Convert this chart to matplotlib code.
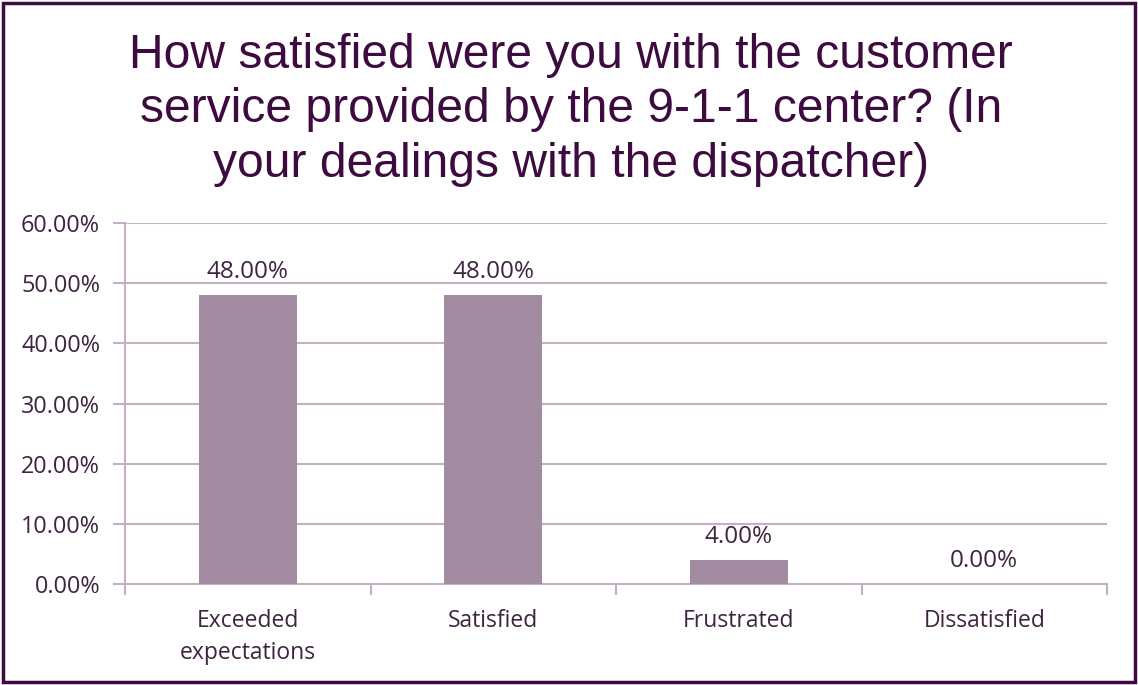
import matplotlib.pyplot as plt
from matplotlib.patches import Rectangle
from matplotlib.ticker import PercentFormatter

categories = ["Exceeded\nexpectations", "Satisfied", "Frustrated", "Dissatisfied"]
shares = [48.0, 48.0, 4.0, 0.0]
y_ticks = [0, 10, 20, 30, 40, 50, 60]

title = ("How satisfied were you with the customer\n"
         "service provided by the 9-1-1 center? (In\n"
         "your dealings with the dispatcher)")

dark = "#3d0b3f"
text_col = "#3e2440"
bar_col = "#a18ca2"
grid_col = "#c3b0c4"

fig = plt.figure(figsize=(11.38, 6.85), dpi=100)
fig.patch.set_facecolor("white")

# frame round the whole slide
fig.patches.append(Rectangle((0.003, 0.004), 0.994, 0.992, transform=fig.transFigure,
                             fill=False, edgecolor=dark, linewidth=2.5))

fig.text(0.502, 0.952, title, ha="center", va="top", fontsize=34.6,
         family="Liberation Sans", color=dark, linespacing=1.27)

ax = fig.add_axes([125 / 1138, 1 - 584 / 685, (1107 - 125) / 1138, (584 - 223) / 685])
x = range(len(categories))
bars = ax.bar(x, shares, width=0.4, color=bar_col, zorder=3)

for rect, v in zip(bars, shares):
    ax.text(rect.get_x() + rect.get_width() / 2, v + 1.9, f"{v:.2f}%",
            ha="center", va="bottom", fontsize=17.5, family="Open Sans", color=text_col)

ax.set_xlim(-0.5, len(categories) - 0.5)
ax.set_ylim(0, 60)
ax.set_yticks(y_ticks)
ax.yaxis.set_major_formatter(PercentFormatter(decimals=2))
ax.set_xticks([i - 0.5 for i in range(len(categories) + 1)], minor=False)
ax.set_xticklabels([])
ax.set_xticks(list(x), minor=True)
ax.set_xticklabels(categories, minor=True, fontsize=16.5, family="Open Sans",
                   color=text_col, linespacing=1.45)
ax.tick_params(axis="x", which="major", length=8, color=grid_col, width=1.5)
ax.tick_params(axis="x", which="minor", length=0, pad=18)
ax.tick_params(axis="y", length=9, color=grid_col, width=1.5, pad=9,
               labelsize=16.8, labelcolor=text_col)
for lab in ax.get_yticklabels():
    lab.set_family("Open Sans")

ax.grid(axis="y", color=grid_col, linewidth=1.5, zorder=0)
for side in ["top", "right"]:
    ax.spines[side].set_visible(False)
ax.spines["left"].set_color(grid_col)
ax.spines["left"].set_linewidth(1.5)
ax.spines["bottom"].set_color(grid_col)
ax.spines["bottom"].set_linewidth(1.5)

fig.savefig("out.png", dpi=100)
